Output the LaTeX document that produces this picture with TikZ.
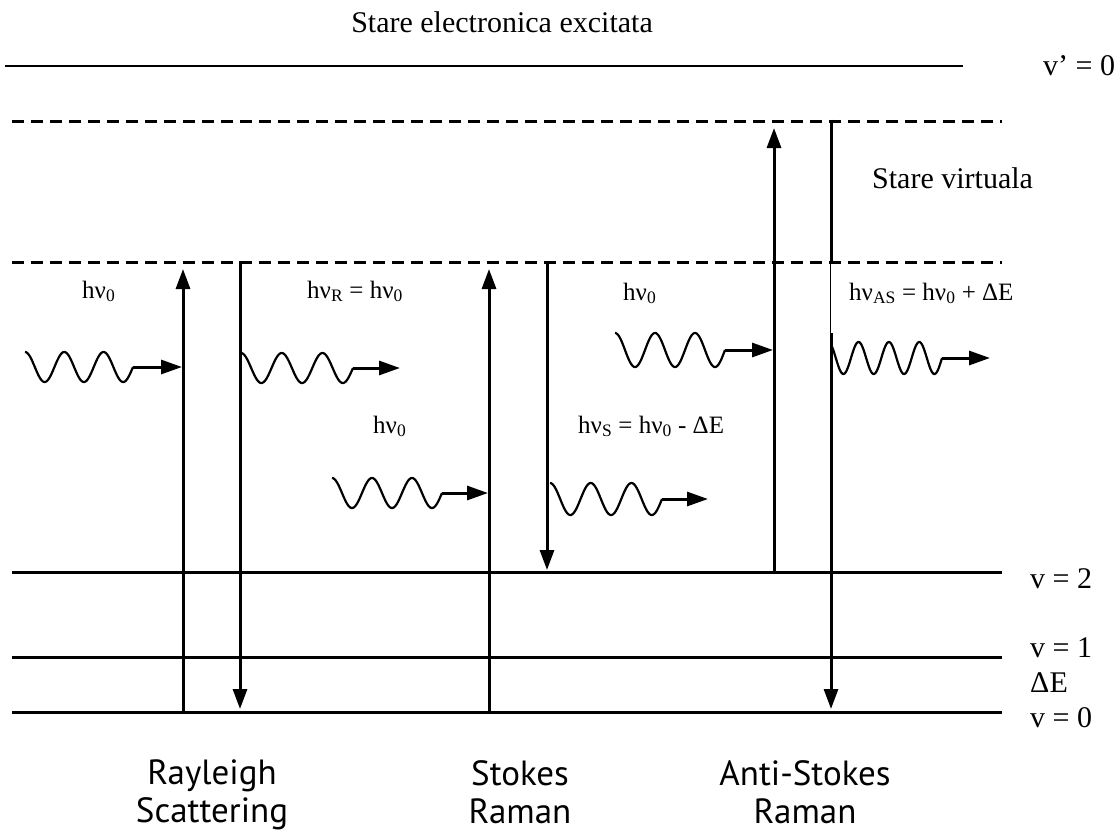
\documentclass[tikz,border=0pt]{standalone}
\usepackage{fontspec}
\setmainfont{Liberation Serif}
\newfontfamily\capsans{PT Sans}
\usetikzlibrary{arrows.meta}
\newcommand{\lowsub}[1]{\textsubscript{#1}}
% #1 start x, #2 wave end x, #3 centre y, #4 amplitude, #5 target, #6 start phase, #7 end phase
\newcommand{\wavephoton}[7]{%
  \draw[wave] plot[domain=#6:#7,samples=140,smooth] ({#1+((\x-#6)/(#7-#6))*(#2-#1)},{#3-#4*cos(\x)});
  \draw[photonarrow] (#2,#3) -- (#5);
}
\begin{document}
\begin{tikzpicture}[x=1pt,y=-1pt,
  level/.style={line width=3pt},
  virt/.style={line width=3pt, dash pattern=on 12pt off 7pt},
  trans/.style={line width=3pt, -{Triangle[length=20pt,width=14pt]}},
  wave/.style={line width=2.2pt},
  photonarrow/.style={line width=3pt, -{Triangle[length=21pt,width=14pt]}},
  txt/.style={font=\fontsize{30}{34}\selectfont, inner sep=0pt, anchor=base west},
  hv/.style={font=\fontsize{25}{28}\selectfont, inner sep=0pt, anchor=base west},
  capt/.style={font=\capsans\fontsize{35}{38}\selectfont, align=center, inner sep=0pt, anchor=north}]
\useasboundingbox (0,0) rectangle (1115,831);
\fill[white] (0,0) rectangle (1115,831);

% levels
\coordinate (eL) at (5,66);   \coordinate (eR) at (963,66);
\coordinate (aL) at (12,121); \coordinate (aR) at (1002,121);
\coordinate (bL) at (12,262); \coordinate (bR) at (1002,262);
\coordinate (v2L) at (12,572); \coordinate (v2R) at (1002,572);
\coordinate (v1L) at (12,657); \coordinate (v1R) at (1002,657);
\coordinate (v0L) at (12,712); \coordinate (v0R) at (1002,712);

\draw[line width=2.8pt] (eL) -- (eR);
\draw[virt] (aL) -- (aR);
\draw[virt] (bL) -- (bR);
\draw[level] (v2L) -- (v2R);
\draw[level] (v1L) -- (v1R);
\draw[level] (v0L) -- (v0R);

% transitions
\coordinate (Ru0) at (183,712); \coordinate (Ru1) at (183,269);
\coordinate (Rd0) at (240,260.5); \coordinate (Rd1) at (240,709);
\coordinate (Su0) at (489,712); \coordinate (Su1) at (489,269);
\coordinate (Sd0) at (547,260.5); \coordinate (Sd1) at (547,570);
\coordinate (Au0) at (774,572); \coordinate (Au1) at (774,128);
\coordinate (Ad0) at (831,119.5); \coordinate (Ad1) at (831,709);

\draw[trans] (Ru0) -- (Ru1);
\draw[trans] (Rd0) -- (Rd1);
\draw[trans] (Su0) -- (Su1);
\draw[trans] (Sd0) -- (Sd1);
\draw[trans] (Au0) -- (Au1);
\draw[trans] (Ad0) -- (Ad1);
\fill[white] (830.8,263.6) rectangle (832.8,333);

% photons
\coordinate (RiT) at (182,367);
\coordinate (RoT) at (400,368);
\coordinate (SiT) at (488,493);
\coordinate (SoT) at (708,499);
\coordinate (AiT) at (773,350);
\coordinate (AoT) at (990,358);
\wavephoton{25}{133}{367}{15}{RiT}{0}{990}
\wavephoton{241}{353}{368}{15}{RoT}{0}{990}
\wavephoton{332}{442}{493}{15}{SiT}{0}{990}
\wavephoton{550}{662}{499}{16}{SoT}{0}{990}
\wavephoton{615}{725}{350}{17}{AiT}{0}{990}
\wavephoton{832}{942}{358}{16}{AoT}{45}{1350}

% texts
\node[txt, anchor=base] (title) at (502,32) {Stare electronica excitata};
\node[txt] (lvp) at (1043,75) {v’ = 0};
\node[txt] (virtl) at (872,188) {Stare virtuala};
\node[txt] (l2) at (1030,588) {v = 2};
\node[txt] (l1) at (1030,657) {v = 1};
\node[txt] (ldE) at (1030,692) {ΔE};
\node[txt] (l0) at (1030,727) {v = 0};

\node[hv] (h1) at (82,298) {hν\lowsub{0}};
\node[hv] (h2) at (307,298) {hν\lowsub{R} = hν\lowsub{0}};
\node[hv] (h3) at (373,433) {hν\lowsub{0}};
\node[hv] (h4) at (578,433) {hν\lowsub{S} = hν\lowsub{0} - ΔE};
\node[hv] (h5) at (623,300) {hν\lowsub{0}};
\node[hv] (h6) at (849,300) {hν\lowsub{AS} = hν\lowsub{0} + ΔE};

\node[capt] (c1) at (212,760) {Rayleigh\\Scattering};
\node[capt] (c2) at (520,760) {Stokes\\Raman};
\node[capt] (c3) at (805,760) {Anti-Stokes\\Raman};
\end{tikzpicture}
\end{document}
